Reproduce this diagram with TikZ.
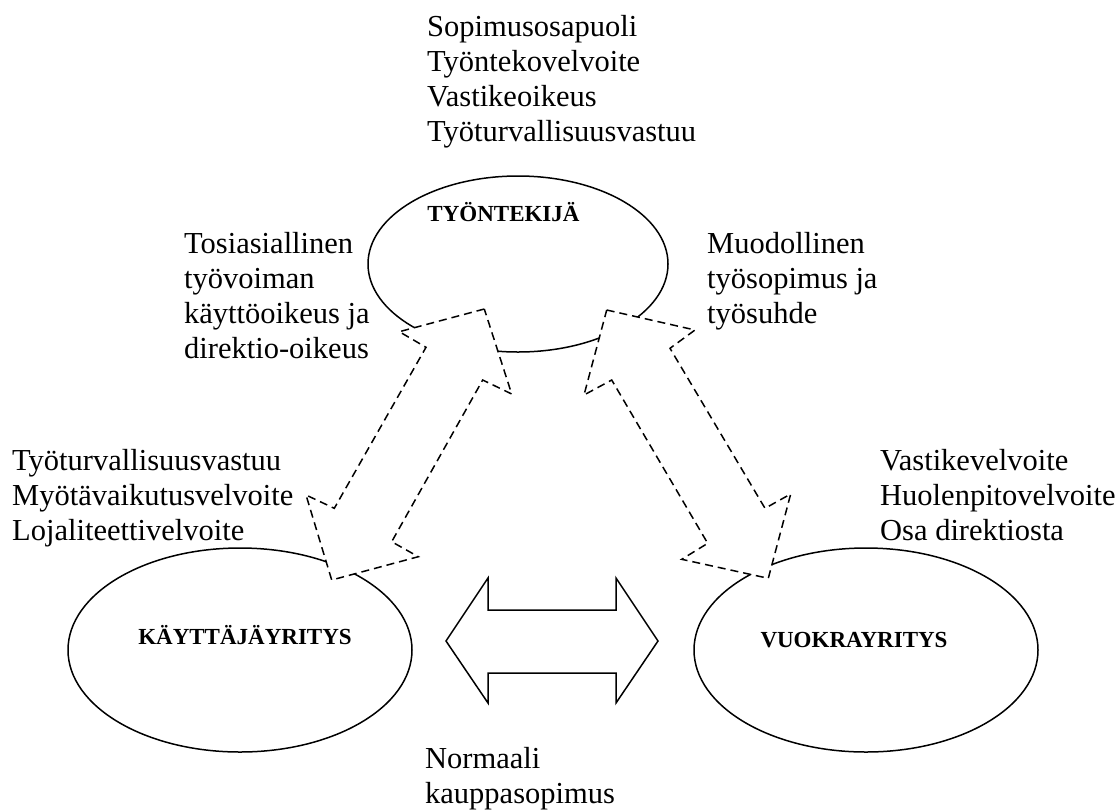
\documentclass[tikz,border=0pt]{standalone}
\usepackage{fontspec}
\setmainfont{Liberation Serif}
\usetikzlibrary{shapes.geometric}
\begin{document}
\begin{tikzpicture}[x=1pt,y=-1pt,
  oval/.style={draw, ellipse, line width=1.5pt, inner sep=0pt},
  dasharrow/.style={draw, fill=white, line width=1.5pt, dash pattern=on 8pt off 5pt, line join=miter},
  blockarrow/.style={draw, fill=white, line width=1.5pt, line join=miter},
  txt/.style={inner sep=0pt, anchor=base west, align=left, font=\fontsize{30.5}{35}\selectfont},
  lbl/.style={inner sep=0pt, anchor=base, font=\bfseries\fontsize{23}{27}\selectfont}]
\useasboundingbox (0,0) rectangle (1118,809);

% ellipses
\node[oval, minimum width=300pt, minimum height=176pt] (tyo) at (518,264) {};
\node[oval, minimum width=344pt, minimum height=204pt] (kay) at (240,650) {};
\node[oval, minimum width=344pt, minimum height=204pt] (vuo) at (866,650) {};

% dashed block arrows
\draw[dasharrow] (484.3,309) -- (399.3,331.7) -- (426,347.3) -- (334.3,508.3) -- (306,495)
  -- (331.7,580) -- (418.3,556.7) -- (391.7,541.7) -- (482.7,380) -- (511.7,394) -- cycle;
\draw[dasharrow] (606.7,310) -- (695,330) -- (670,348.3) -- (765,508.3) -- (790.7,494)
  -- (768.3,578.3) -- (681.7,559.3) -- (707.7,543.3) -- (611.7,380) -- (584,395) -- cycle;

% solid double arrow
\draw[blockarrow] (446,641) -- (488,578) -- (488,610) -- (616,610) -- (616,578) -- (658,641)
  -- (616,703) -- (616,673) -- (488,673) -- (488,703) -- cycle;

% labels in ellipses
\node[lbl] (ltyo) at (503.5,221) {TYÖNTEKIJÄ};
\node[lbl] (lkay) at (245,644) {KÄYTTÄJÄYRITYS};
\node[lbl] (lvuo) at (854,647) {VUOKRAYRITYS};

% text blocks (anchor = baseline of last line)
\node[txt] (top) at (427,141) {Sopimusosapuoli\\Työntekovelvoite\\Vastikeoikeus\\Työturvallisuusvastuu};
\node[txt] (ml) at (184,358) {Tosiasiallinen\\työvoiman\\käyttöoikeus ja\\direktio-oikeus};
\node[txt] (mr) at (707,323) {Muodollinen\\työsopimus ja\\työsuhde};
\node[txt] (ll) at (12,540) {Työturvallisuusvastuu\\Myötävaikutusvelvoite\\Lojaliteettivelvoite};
\node[txt] (lr) at (880,540) {Vastikevelvoite\\Huolenpitovelvoite\\Osa direktiosta};
\node[txt] (bot) at (425,803) {Normaali\\kauppasopimus};
\end{tikzpicture}
\end{document}
